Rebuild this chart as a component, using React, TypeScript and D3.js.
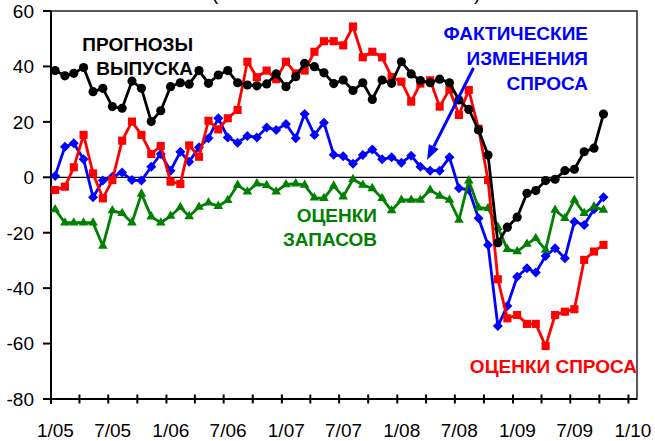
import * as d3 from 'd3';

// monthly survey balances, Jan 2005 .. Oct 2009
const startYear = 2005;

const outputExpect = [38.5, 36.6, 37.5, 39.6, 30.9, 32.1, 25.5, 24.9, 34.7, 32.1, 20.1, 24.0, 32.7, 34.1, 33.6,
  38.5, 33.9, 36.9, 38.5, 34.1, 33.3, 33.0, 33.7, 37.3, 32.7, 36.3, 41.1, 39.9, 37.7, 33.8,
  35.1, 31.3, 34.1, 28.1, 35.1, 33.9, 41.7, 37.3, 34.9, 34.1, 35.4, 34.1, 27.9, 24.5, 17.1,
  8.0, -23.6, -18.0, -14.4, -5.8, -4.8, -1.2, -0.7, 2.4, 2.9, 9.2, 10.5, 22.8];

const demandAssess = [-4.6, -3.4, 3.6, 15.3, 1.4, -7.6, -1.0, 13.2, 20.1, 15.3, 8.4, 11.3, -1.6, -2.4, 11.5,
  7.4, 20.4, 17.3, 21.3, 24.3, 41.7, 36.1, 38.5, 35.4, 41.7, 37.5, 38.5, 45.3, 49.1, 49.1,
  47.6, 54.4, 43.3, 45.3, 43.3, 36.2, 34.5, 27.3, 33.8, 35.0, 25.5, 31.7, 22.5, 31.5, 17.5,
  -1.0, -36.8, -50.9, -49.7, -52.9, -52.9, -60.9, -49.7, -48.5, -47.6, -29.8, -26.8, -24.4];

const demandActual = [0.5, 11.0, 12.3, 6.5, -7.2, -1.2, 0.2, 1.7, -1.0, -1.2, 3.8, 8.4, 2.4, 9.2, 5.6,
  10.8, 14.1, 21.3, 14.4, 12.5, 14.9, 14.4, 18.0, 17.1, 19.2, 14.1, 22.8, 15.3, 19.7, 8.1,
  7.6, 4.9, 8.0, 10.0, 6.5, 7.2, 5.2, 7.8, 3.8, 2.4, 2.4, 7.2, -4.0, -4.5, -14.8,
  -24.4, -53.7, -46.4, -35.9, -32.8, -34.4, -28.4, -25.6, -29.2, -16.0, -17.2, -11.5, -7.2];

const stocksAssess = [-11.6, -16.4, -16.4, -16.4, -16.4, -24.8, -12.0, -13.0, -16.4, -6.0, -14.2, -16.4, -14.0, -10.8, -14.1,
  -10.7, -9.2, -10.4, -8.3, -2.8, -5.2, -2.3, -2.9, -5.2, -2.6, -2.3, -2.8, -7.4, -7.6, -3.1,
  -7.0, -0.7, -2.8, -4.0, -7.6, -12.0, -8.2, -8.2, -8.2, -4.6, -6.7, -8.2, -15.4, -1.2, -11.0,
  -11.2, -18.0, -26.0, -26.8, -24.1, -22.0, -26.2, -11.8, -14.8, -8.2, -13.0, -10.6, -11.8];

const yTicks = [60, 40, 20, 0, -20, -40, -60, -80];
const xLabels = ['1/05', '7/05', '1/06', '7/06', '1/07', '7/07', '1/08', '7/08', '1/09', '7/09', '1/10'];

const FONT = '"Liberation Sans", Arial, sans-serif';

export default function App() {
  const width = 655;
  const height = 441;
  const left = 51, right = 637, top = 11, bottom = 399;

  const x = d3.scaleTime()
    .domain([new Date(startYear, 0, 1), new Date(2010, 0, 28)])
    .range([left, right]);
  const y = d3.scaleLinear().domain([-80, 60]).range([bottom, top]);

  const pointDate = (i: number) => new Date(startYear, i, 14);

  const line = d3.line<number>()
    .x((_, i) => x(pointDate(i)))
    .y(d => y(d));

  const quarterTicks = d3.range(0, 61, 3).map(m => new Date(startYear, m, 1));

  const diamond = 'M0,-5L5,0L0,5L-5,0Z';
  const circle = d3.symbol(d3.symbolCircle, 66)()!;
  const square = d3.symbol(d3.symbolSquare, 66)()!;
  const triangle = d3.symbol(d3.symbolTriangle, 40)()!;

  const series = [
    { data: demandActual, color: '#0000FF', marker: diamond },
    { data: stocksAssess, color: '#008000', marker: triangle },
    { data: demandAssess, color: '#FF0000', marker: square },
    { data: outputExpect, color: '#000000', marker: circle },
  ];

  // arrow pointing from label to the blue series
  const ax1 = 473.5, ay1 = 68, ax2 = 427, ay2 = 160;
  const ang = Math.atan2(ay2 - ay1, ax2 - ax1);
  const hl = 15, hw = 5.5;
  const bx = ax2 - hl * Math.cos(ang), by = ay2 - hl * Math.sin(ang);
  const head = `M${ax2},${ay2}L${bx + hw * Math.sin(ang)},${by - hw * Math.cos(ang)}L${bx - hw * Math.sin(ang)},${by + hw * Math.cos(ang)}Z`;

  const labelStyle = { fontFamily: FONT, fontSize: 19, fontWeight: 700 } as const;

  return (
    <svg width={width} height={height} style={{ position: 'absolute', left: 0, top: 0, background: '#fff' }}
      fontFamily={FONT}>
      {/* cut-off subtitle brackets */}
      <text x={212} y={0} fontSize={19}>(</text>
      <text x={474} y={0} fontSize={19}>)</text>

      {/* frame */}
      <rect x={left} y={top} width={right - left} height={bottom - top} fill="none" stroke="#222" strokeWidth={1.5} />
      <line x1={left} x2={634} y1={y(0)} y2={y(0)} stroke="#000" strokeWidth={1.3} />

      {/* axes */}
      <line x1={left} x2={left} y1={top} y2={bottom + 5} stroke="#000" strokeWidth={2} />
      <line x1={left} x2={right} y1={bottom} y2={bottom} stroke="#000" strokeWidth={2} />
      {yTicks.map(v => (
        <g key={v}>
          <line x1={left - 8} x2={left} y1={y(v)} y2={y(v)} stroke="#000" strokeWidth={2} />
          <text x={34} y={Math.max(y(v), 8.5) + 6.8} textAnchor="end" fontSize={19}>{v}</text>
        </g>
      ))}
      {quarterTicks.map((d, i) => (
        <line key={i} x1={x(d)} x2={x(d)} y1={bottom - 4.5} y2={bottom + 4.5} stroke="#000" strokeWidth={2} />
      ))}
      {xLabels.map((lab, i) => (
        <text key={lab} x={x(new Date(startYear, i * 6, 15))} y={436.5} textAnchor="middle" fontSize={19}>{lab}</text>
      ))}

      {/* series */}
      {series.map((s, k) => (
        <g key={k}>
          <path d={line(s.data)!} fill="none" stroke={s.color} strokeWidth={2.8} strokeLinejoin="round" />
          {s.data.map((v, i) => (
            <path key={i} d={s.marker} transform={`translate(${x(pointDate(i))},${y(v)})`} fill={s.color} />
          ))}
        </g>
      ))}

      {/* annotations */}
      <text x={193} y={50.5} textAnchor="end" fill="#000" {...labelStyle}>ПРОГНОЗЫ</text>
      <text x={193} y={75} textAnchor="end" fill="#000" {...labelStyle}>ВЫПУСКА</text>

      <text x={588} y={39.5} textAnchor="end" fill="#0000FF" {...labelStyle}>ФАКТИЧЕСКИЕ</text>
      <text x={588} y={64.5} textAnchor="end" fill="#0000FF" {...labelStyle}>ИЗМЕНЕНИЯ</text>
      <text x={588} y={90} textAnchor="end" fill="#0000FF" {...labelStyle}>СПРОСА</text>
      <line x1={ax1} y1={ay1} x2={bx} y2={by} stroke="#0000FF" strokeWidth={3} />
      <path d={head} fill="#0000FF" />

      <text x={377} y={221.5} textAnchor="end" fill="#008000" {...labelStyle}>ОЦЕНКИ</text>
      <text x={377} y={246} textAnchor="end" fill="#008000" {...labelStyle}>ЗАПАСОВ</text>

      <text x={637} y={373} textAnchor="end" fill="#FF0000" {...labelStyle}>ОЦЕНКИ СПРОСА</text>
    </svg>
  );
}
